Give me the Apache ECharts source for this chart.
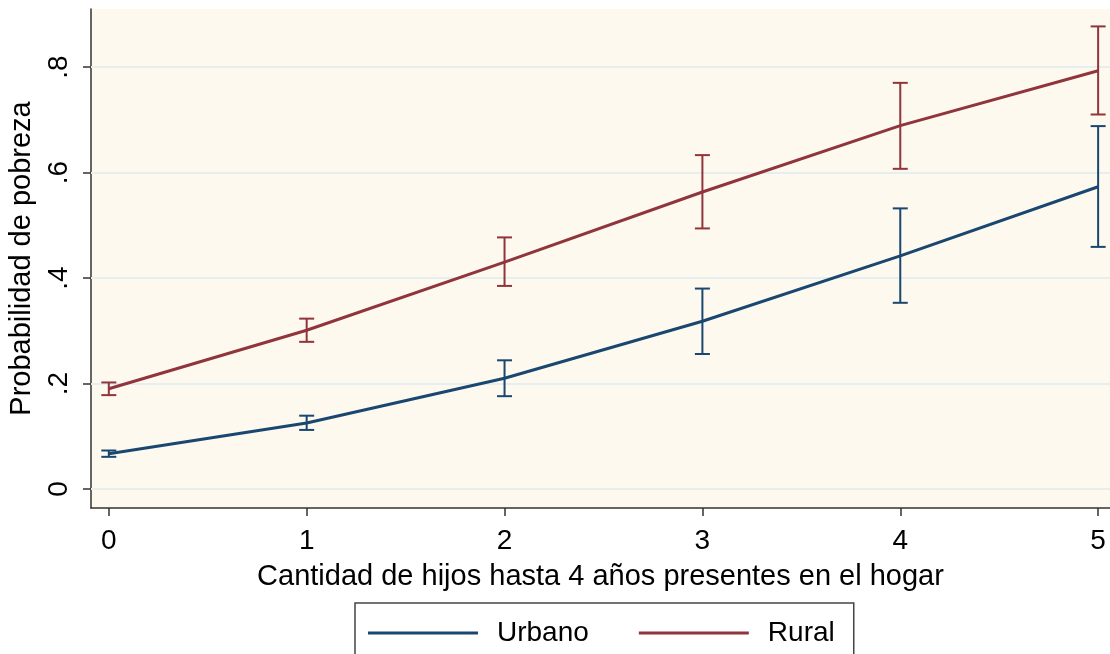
<!DOCTYPE html>
<html>
<head>
<meta charset="utf-8">
<script src="https://cdn.jsdelivr.net/npm/echarts@6/dist/echarts.min.js"></script>
<style>
  html, body { margin: 0; padding: 0; background: #ffffff; }
  #chart { width: 1110px; height: 654px; }
</style>
</head>
<body>
<div id="chart"></div>
<script>
// Number of children under 4 in the household
const hijos = [0, 1, 2, 3, 4, 5];

// Predicted poverty probability with 95% confidence limits
const urbano      = [0.067, 0.125, 0.210, 0.318, 0.442, 0.573];
const urbanoLow   = [0.061, 0.112, 0.176, 0.256, 0.353, 0.459];
const urbanoHigh  = [0.073, 0.139, 0.244, 0.380, 0.532, 0.688];

const rural       = [0.190, 0.301, 0.430, 0.563, 0.689, 0.793];
const ruralLow    = [0.178, 0.279, 0.385, 0.494, 0.607, 0.710];
const ruralHigh   = [0.202, 0.323, 0.477, 0.633, 0.770, 0.877];

const yTicks = [0, 0.2, 0.4, 0.6, 0.8];
const xTicks = [0, 1, 2, 3, 4, 5];

const COLOR_URB = '#1a476f';
const COLOR_RUR = '#90353b';
const FONT = '"Liberation Sans", Arial, sans-serif';

function pairs(xs, ys) { return xs.map((x, i) => [x, ys[i]]); }
function ciRows(xs, lo, hi) { return xs.map((x, i) => [x, lo[i], hi[i]]); }

// Vertical interval with short horizontal caps
function ciRender(color) {
  return function (params, api) {
    const x = api.value(0);
    const top = api.coord([x, api.value(2)]);
    const bot = api.coord([x, api.value(1)]);
    const cap = 7.5;
    const style = { stroke: color, lineWidth: 2 };
    return {
      type: 'group',
      children: [
        { type: 'line', shape: { x1: top[0], y1: top[1], x2: bot[0], y2: bot[1] }, style },
        { type: 'line', shape: { x1: top[0] - cap, y1: top[1], x2: top[0] + cap, y2: top[1] }, style },
        { type: 'line', shape: { x1: bot[0] - cap, y1: bot[1], x2: bot[0] + cap, y2: bot[1] }, style }
      ]
    };
  };
}

const chart = echarts.init(document.getElementById('chart'), null, { renderer: 'canvas' });

chart.setOption({
  animation: false,
  backgroundColor: '#ffffff',
  textStyle: { fontFamily: FONT },
  grid: {
    left: 91, top: 9, right: 0, bottom: 146,
    outerBoundsMode: 'none', containLabel: false,
    show: true, backgroundColor: '#fdf9ef', borderWidth: 0
  },
  legend: {
    left: 355, top: 603,
    padding: [16, 19, 22, 13],
    borderColor: '#444444', borderWidth: 1.5,
    itemWidth: 110, itemHeight: 3, itemGap: 50,
    icon: 'rect',
    textStyle: { fontSize: 28, color: '#000000', fontFamily: FONT, padding: [0, 0, 0, 14] },
    data: ['Urbano', 'Rural']
  },
  xAxis: {
    type: 'value',
    min: -0.09, max: 5.06,
    name: 'Cantidad de hijos hasta 4 años presentes en el hogar',
    nameLocation: 'middle', nameGap: 54,
    nameTextStyle: { fontSize: 29, color: '#000000', fontFamily: FONT },
    axisLine: { show: true, onZero: false, lineStyle: { color: '#333333', width: 1.5 } },
    axisTick: { show: true, customValues: xTicks, length: 8, lineStyle: { color: '#333333', width: 1.5 } },
    axisLabel: { customValues: xTicks, fontSize: 28, color: '#000000', margin: 19, fontFamily: FONT },
    splitLine: { show: false }
  },
  yAxis: {
    type: 'value',
    min: -0.036, max: 0.91,
    name: 'Probabilidad de pobreza',
    nameLocation: 'middle', nameGap: 55,
    nameTextStyle: { fontSize: 29, color: '#000000', fontFamily: FONT },
    axisLine: { show: true, onZero: false, lineStyle: { color: '#333333', width: 1.5 } },
    axisTick: { show: true, customValues: yTicks, length: 8, lineStyle: { color: '#333333', width: 1.5 } },
    axisLabel: {
      customValues: yTicks, rotate: 90, fontSize: 28, color: '#000000', margin: 18, fontFamily: FONT,
      formatter: v => (Math.abs(v) < 1e-9 ? '0' : String(Number(v.toFixed(1))).replace(/^0/, ''))
    },
    splitLine: { show: false }
  },
  series: [
    {
      // horizontal gridlines at the labelled y values
      type: 'line', silent: true, data: [], symbol: 'none', z: 1,
      markLine: {
        silent: true, symbol: 'none', label: { show: false }, z: 1,
        lineStyle: { color: '#e6eef0', width: 2, type: 'solid' },
        data: yTicks.map(v => ({ yAxis: v }))
      }
    },
    {
      name: 'Urbano', type: 'line', data: pairs(hijos, urbano),
      symbol: 'none', lineStyle: { color: COLOR_URB, width: 3 }, itemStyle: { color: COLOR_URB }, z: 3
    },
    {
      name: 'Rural', type: 'line', data: pairs(hijos, rural),
      symbol: 'none', lineStyle: { color: COLOR_RUR, width: 3 }, itemStyle: { color: COLOR_RUR }, z: 3
    },
    {
      type: 'custom', renderItem: ciRender(COLOR_URB), data: ciRows(hijos, urbanoLow, urbanoHigh),
      encode: { x: 0, y: [1, 2] }, z: 4
    },
    {
      type: 'custom', renderItem: ciRender(COLOR_RUR), data: ciRows(hijos, ruralLow, ruralHigh),
      encode: { x: 0, y: [1, 2] }, z: 4
    }
  ]
});
</script>
</body>
</html>
